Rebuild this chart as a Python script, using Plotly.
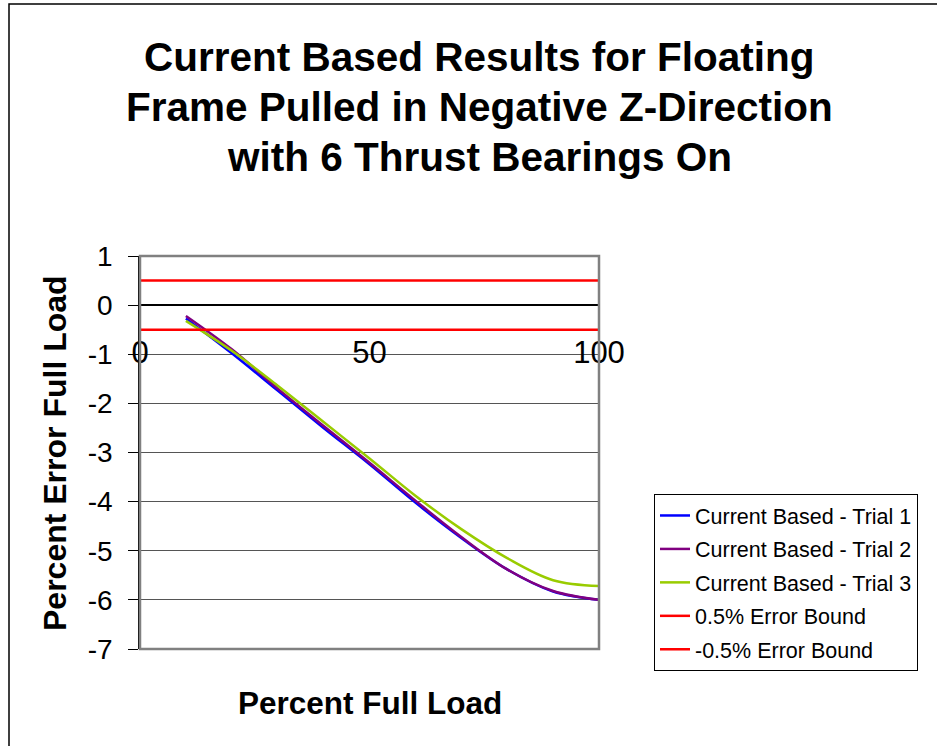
import plotly.graph_objects as go

# ---- data ----
load_pct = [10, 20, 30, 40, 50, 60, 70, 80, 90, 100]
trial1 = [-0.27, -0.98, -1.74, -2.50, -3.24, -4.02, -4.74, -5.38, -5.83, -6.00]
trial2 = [-0.22, -0.90, -1.70, -2.46, -3.21, -3.98, -4.72, -5.38, -5.82, -6.00]
trial3 = [-0.32, -0.93, -1.64, -2.38, -3.12, -3.88, -4.56, -5.15, -5.60, -5.72]
bound_x = [0, 100]
upper_bound = [0.5, 0.5]
lower_bound = [-0.5, -0.5]
series_names = ["Current Based - Trial 1", "Current Based - Trial 2",
                "Current Based - Trial 3", "0.5% Error Bound", "-0.5% Error Bound"]
series_colors = ["#0000FF", "#800080", "#99CC00", "#FF0000", "#FF0000"]
x_ticks = [0, 50, 100]
y_ticks = [1, 0, -1, -2, -3, -4, -5, -6, -7]
title_lines = ["Current Based Results for Floating",
               "Frame Pulled in Negative Z-Direction",
               "with 6 Thrust Bearings On"]

FONT = "Liberation Sans, Arial, sans-serif"
W, H = 937, 746
L, R, T, B = 140, 338, 256, 97
PW, PH = W - L - R, H - T - B


def px_x(p):
    return (p - L) / PW


def px_y(p):
    return (H - B - p) / PH


fig = go.Figure()
xs = [load_pct, load_pct, load_pct, bound_x, bound_x]
ys = [trial1, trial2, trial3, upper_bound, lower_bound]
for i, (name, col) in enumerate(zip(series_names, series_colors)):
    fig.add_trace(go.Scatter(
        x=xs[i], y=ys[i], name=name, mode="lines", legendgroup="g%d" % i,
        line=dict(color=col, width=2.5, shape="spline" if i < 3 else "linear"),
    ))

annotations = []
for i, (txt, yp) in enumerate(zip(title_lines, [57, 107, 157])):
    annotations.append(dict(text="<b>%s</b>" % txt, x=px_x(479), y=px_y(yp),
                            xref="paper", yref="paper", showarrow=False,
                            xanchor="center", yanchor="middle",
                            font=dict(family=FONT, size=40.5, color="black")))
annotations.append(dict(text="<b>Percent Error Full Load</b>", x=px_x(55), y=px_y(453),
                        xref="paper", yref="paper", showarrow=False, textangle=-90,
                        xanchor="center", yanchor="middle",
                        font=dict(family=FONT, size=32, color="black")))
annotations.append(dict(text="<b>Percent Full Load</b>", x=px_x(370), y=px_y(703),
                        xref="paper", yref="paper", showarrow=False,
                        xanchor="center", yanchor="middle",
                        font=dict(family=FONT, size=31.5, color="black")))

shapes = [
    # plot area border (gray)
    dict(type="rect", xref="x domain", yref="y domain", x0=0, x1=1, y0=0, y1=1,
         line=dict(color="#808080", width=2.5), layer="above"),
    # outer chart border
    dict(type="rect", xref="paper", yref="paper", x0=px_x(9), x1=px_x(1000),
         y0=px_y(800), y1=px_y(4), line=dict(color="black", width=1.5)),
]

fig.update_layout(
    width=W, height=H,
    margin=dict(l=L, r=R, t=T, b=B),
    paper_bgcolor="white", plot_bgcolor="white",
    font=dict(family=FONT, color="black"),
    showlegend=True,
    legend=dict(x=px_x(654), y=px_y(494), xanchor="left", yanchor="top",
                bordercolor="black", borderwidth=1, bgcolor="white",
                font=dict(family=FONT, size=21.5, color="black"),
                traceorder="grouped", tracegroupgap=2.5, itemwidth=30),
    annotations=annotations,
    shapes=shapes,
    xaxis=dict(range=[0, 100], tickvals=x_ticks, ticktext=[str(v) for v in x_ticks],
               showgrid=False, zeroline=False, showline=False, ticks="",
               anchor="free", position=px_y(331),
               tickfont=dict(family=FONT, size=31, color="black")),
    yaxis=dict(range=[-7, 1], tickvals=y_ticks, ticktext=[str(v) for v in y_ticks],
               showgrid=True, gridcolor="#555555", gridwidth=1.2,
               zeroline=True, zerolinecolor="black", zerolinewidth=1.5,
               showline=True, linecolor="black", linewidth=1.5,
               ticks="outside", ticklen=10, tickcolor="black", tickwidth=1.2,
               ticklabelstandoff=10,
               tickfont=dict(family=FONT, size=28, color="black")),
)

fig.write_html("out.html")
